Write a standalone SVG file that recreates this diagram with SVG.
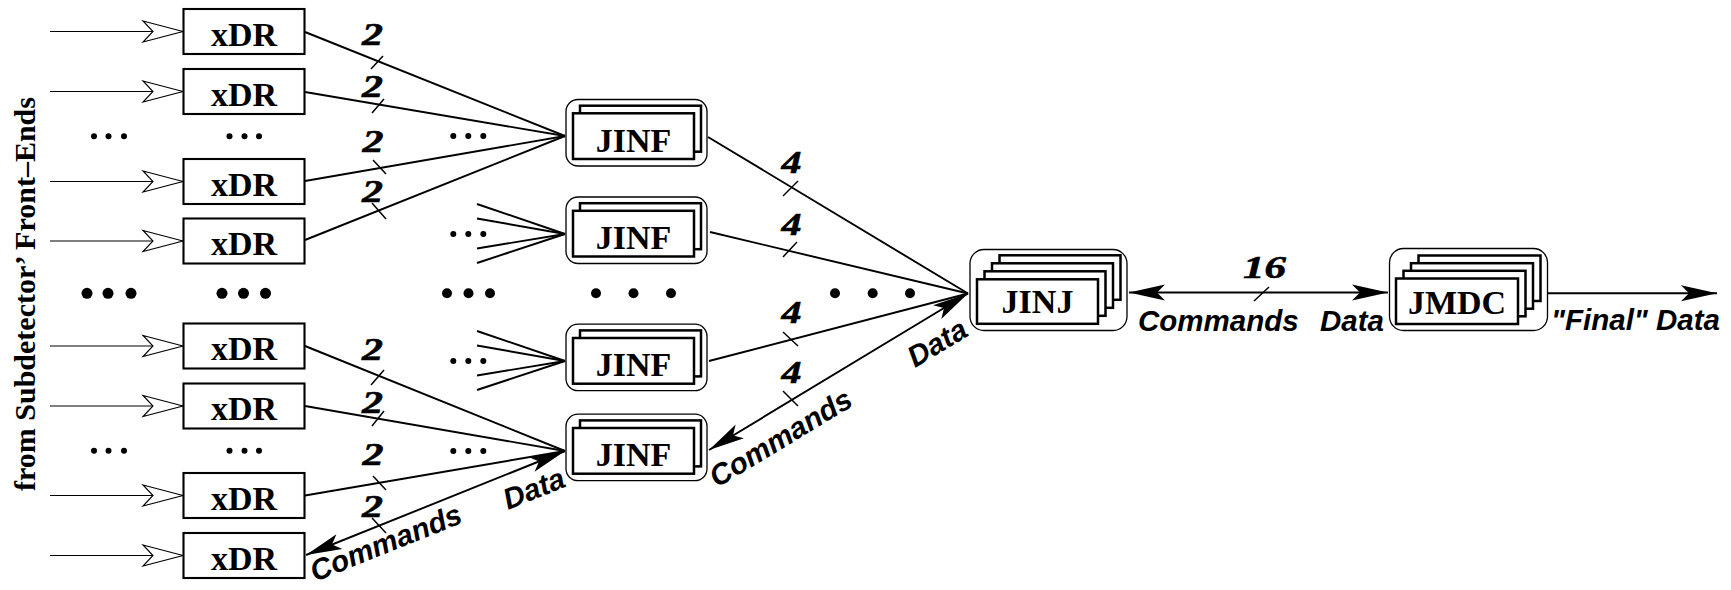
<svg xmlns="http://www.w3.org/2000/svg" width="1731" height="590" viewBox="0 0 1731 590">
<style>
.box{fill:#fff;stroke:#000;stroke-width:2.1}
.outer{fill:#fff;stroke:#000;stroke-width:1.3}
.card{fill:#fff;stroke:#000;stroke-width:2.5}
.lbl{font-family:"Liberation Serif",serif;font-weight:bold;font-size:34px;text-anchor:middle}
.num{font-family:"Liberation Serif",serif;font-weight:bold;font-style:italic;font-size:32px;text-anchor:middle;stroke:#000;stroke-width:0.6}
.sig{font-family:"Liberation Sans",sans-serif;font-weight:bold;font-style:italic;font-size:29.5px}
.side{font-family:"Liberation Serif",serif;font-weight:bold;font-size:30px;text-anchor:middle}
.conn{stroke:#000;stroke-width:1.9;fill:none}
.tick{stroke:#000;stroke-width:1.5;fill:none}
.in{stroke:#000;stroke-width:1.1;fill:none}
</style>
<defs>
<marker id="ah" markerUnits="userSpaceOnUse" markerWidth="40" markerHeight="20" viewBox="-38 -10 40 20" refX="0" refY="0" orient="auto-start-reverse" overflow="visible">
<path d="M0,0 L-36,-8 L-28,0 L-36,8 Z" fill="#000"/>
</marker>
<marker id="oa" markerUnits="userSpaceOnUse" markerWidth="44" markerHeight="24" viewBox="-42 -12 44 24" refX="0" refY="0" orient="auto" overflow="visible">
<path d="M0,0 L-40,-10.5 L-30,0 L-40,10.5 Z" fill="#fff" stroke="#000" stroke-width="1.1"/>
</marker>
</defs>

<text class="side" transform="translate(35,294) rotate(-90)">from Subdetector’ Front–Ends</text>

<g id="inputs">
<line class="in" x1="50" y1="31.5" x2="183" y2="31.5" marker-end="url(#oa)"/>
<line class="in" x1="50" y1="91.5" x2="183" y2="91.5" marker-end="url(#oa)"/>
<line class="in" x1="50" y1="181.5" x2="183" y2="181.5" marker-end="url(#oa)"/>
<line class="in" x1="50" y1="241" x2="183" y2="241" marker-end="url(#oa)"/>
<line class="in" x1="50" y1="346" x2="183" y2="346" marker-end="url(#oa)"/>
<line class="in" x1="50" y1="406" x2="183" y2="406" marker-end="url(#oa)"/>
<line class="in" x1="50" y1="495.5" x2="183" y2="495.5" marker-end="url(#oa)"/>
<line class="in" x1="50" y1="555.5" x2="183" y2="555.5" marker-end="url(#oa)"/>
</g>

<g id="xdr1"><rect class="box" x="183.5" y="9" width="121" height="45"/><text class="lbl" x="244" y="45.5">xDR</text></g>
<g id="xdr2"><rect class="box" x="183.5" y="69" width="121" height="45"/><text class="lbl" x="244" y="105.5">xDR</text></g>
<g id="xdr3"><rect class="box" x="183.5" y="159" width="121" height="45"/><text class="lbl" x="244" y="195.5">xDR</text></g>
<g id="xdr4"><rect class="box" x="183.5" y="218.5" width="121" height="45"/><text class="lbl" x="244" y="255">xDR</text></g>
<g id="xdr5"><rect class="box" x="183.5" y="323.5" width="121" height="45"/><text class="lbl" x="244" y="360">xDR</text></g>
<g id="xdr6"><rect class="box" x="183.5" y="383.5" width="121" height="45"/><text class="lbl" x="244" y="420">xDR</text></g>
<g id="xdr7"><rect class="box" x="183.5" y="473" width="121" height="45"/><text class="lbl" x="244" y="509.5">xDR</text></g>
<g id="xdr8"><rect class="box" x="183.5" y="533" width="121" height="45"/><text class="lbl" x="244" y="569.5">xDR</text></g>

<g id="dots">
<circle cx="94" cy="136.3" r="3"/><circle cx="108.5" cy="136.3" r="3"/><circle cx="124" cy="136.3" r="3"/>
<circle cx="229.5" cy="136.3" r="3"/><circle cx="244.5" cy="136.3" r="3"/><circle cx="259" cy="136.3" r="3"/>
<circle cx="94" cy="450.7" r="3"/><circle cx="108.5" cy="450.7" r="3"/><circle cx="124" cy="450.7" r="3"/>
<circle cx="229.5" cy="450.7" r="3"/><circle cx="244.5" cy="450.7" r="3"/><circle cx="259" cy="450.7" r="3"/>
<circle cx="87" cy="293.3" r="5.5"/><circle cx="108" cy="293.3" r="5.5"/><circle cx="131" cy="293.3" r="5.5"/>
<circle cx="222" cy="293.3" r="5.5"/><circle cx="243.5" cy="293.3" r="5.5"/><circle cx="265.5" cy="293.3" r="5.5"/>
<circle cx="453.3" cy="136" r="3"/><circle cx="468.3" cy="136" r="3"/><circle cx="483.3" cy="136" r="3"/>
<circle cx="453.3" cy="234" r="3"/><circle cx="468.3" cy="234" r="3"/><circle cx="483.3" cy="234" r="3"/>
<circle cx="453.3" cy="361" r="3"/><circle cx="468.3" cy="361" r="3"/><circle cx="483.3" cy="361" r="3"/>
<circle cx="453.3" cy="451" r="3"/><circle cx="468.3" cy="451" r="3"/><circle cx="483.3" cy="451" r="3"/>
<circle cx="447" cy="293.3" r="5"/><circle cx="468.5" cy="293.3" r="5"/><circle cx="490" cy="293.3" r="5"/>
<circle cx="596" cy="293.3" r="5"/><circle cx="633.5" cy="293.3" r="5"/><circle cx="671" cy="293.3" r="5"/>
<circle cx="835" cy="293.3" r="5"/><circle cx="872.7" cy="293.3" r="5"/><circle cx="910" cy="293.3" r="5"/>
</g>

<g id="connectors">
<line class="conn" x1="305" y1="32" x2="565" y2="136"/>
<line class="conn" x1="305" y1="92" x2="565" y2="136"/>
<line class="conn" x1="305" y1="181" x2="565" y2="136"/>
<line class="conn" x1="305" y1="240" x2="565" y2="136"/>
<line class="conn" x1="477" y1="204" x2="565" y2="234"/>
<line class="conn" x1="477" y1="218.5" x2="565" y2="234"/>
<line class="conn" x1="477" y1="248.5" x2="565" y2="234"/>
<line class="conn" x1="477" y1="263" x2="565" y2="234"/>
<line class="conn" x1="477" y1="331" x2="565" y2="361"/>
<line class="conn" x1="477" y1="345.5" x2="565" y2="361"/>
<line class="conn" x1="477" y1="375.5" x2="565" y2="361"/>
<line class="conn" x1="477" y1="390" x2="565" y2="361"/>
<line class="conn" x1="305" y1="346" x2="565" y2="451"/>
<line class="conn" x1="305" y1="406" x2="565" y2="451"/>
<line class="conn" x1="305" y1="495.5" x2="565" y2="451"/>
<line class="conn" x1="306" y1="555" x2="565" y2="451" marker-start="url(#ah)" marker-end="url(#ah)"/>
<line class="conn" x1="708" y1="137" x2="968" y2="293.5"/>
<line class="conn" x1="710" y1="232" x2="968" y2="293.5"/>
<line class="conn" x1="709" y1="361" x2="968" y2="293.5"/>
<line class="conn" x1="709" y1="450" x2="968" y2="293.5" marker-start="url(#ah)" marker-end="url(#ah)"/>
<line class="conn" x1="1129" y1="292.5" x2="1388" y2="292.5" marker-start="url(#ah)" marker-end="url(#ah)"/>
<line class="conn" x1="1548" y1="293.3" x2="1717" y2="293.3" marker-end="url(#ah)"/>

<line class="tick" x1="371" y1="69" x2="383" y2="56"/>
<line class="tick" x1="372" y1="113" x2="384" y2="99"/>
<line class="tick" x1="373" y1="160" x2="386" y2="174"/>
<line class="tick" x1="372" y1="203" x2="386" y2="219"/>
<line class="tick" x1="371" y1="385" x2="384" y2="370"/>
<line class="tick" x1="372" y1="426" x2="384" y2="411"/>
<line class="tick" x1="373" y1="476" x2="386" y2="490"/>
<line class="tick" x1="372" y1="518" x2="386" y2="533"/>
<line class="tick" x1="783" y1="196" x2="798" y2="181"/>
<line class="tick" x1="783" y1="257" x2="797" y2="242"/>
<line class="tick" x1="783" y1="332" x2="798" y2="346"/>
<line class="tick" x1="783" y1="391" x2="798" y2="406"/>
<line class="tick" x1="1254" y1="301" x2="1269" y2="287"/>

<text class="num" x="372.5" y="45" textLength="21" lengthAdjust="spacingAndGlyphs">2</text>
<text class="num" x="372.5" y="97" textLength="21" lengthAdjust="spacingAndGlyphs">2</text>
<text class="num" x="373" y="151.5" textLength="21" lengthAdjust="spacingAndGlyphs">2</text>
<text class="num" x="372.5" y="201.5" textLength="21" lengthAdjust="spacingAndGlyphs">2</text>
<text class="num" x="372.5" y="360" textLength="21" lengthAdjust="spacingAndGlyphs">2</text>
<text class="num" x="372.5" y="413" textLength="21" lengthAdjust="spacingAndGlyphs">2</text>
<text class="num" x="373" y="465" textLength="21" lengthAdjust="spacingAndGlyphs">2</text>
<text class="num" x="372.5" y="516.5" textLength="21" lengthAdjust="spacingAndGlyphs">2</text>
<text class="num" x="791.5" y="173" textLength="20" lengthAdjust="spacingAndGlyphs">4</text>
<text class="num" x="791.5" y="235" textLength="20" lengthAdjust="spacingAndGlyphs">4</text>
<text class="num" x="791.5" y="323" textLength="20" lengthAdjust="spacingAndGlyphs">4</text>
<text class="num" x="791.5" y="383" textLength="20" lengthAdjust="spacingAndGlyphs">4</text>
<text class="num" x="1264.5" y="278" textLength="43" lengthAdjust="spacingAndGlyphs">16</text>

<text class="sig" transform="translate(315,582) rotate(-21.85)">Commands</text>
<text class="sig" transform="translate(508,510) rotate(-21.85)">Data</text>
<text class="sig" transform="translate(717,488) rotate(-31.1)">Commands</text>
<text class="sig" transform="translate(915,368) rotate(-31.1)">Data</text>
<text class="sig" x="1138" y="331">Commands</text>
<text class="sig" x="1320" y="331">Data</text>
<text class="sig" x="1551" y="330">"Final" Data</text>
</g>

<g id="jinf1">
<rect class="outer" x="566" y="99.5" width="141" height="66.5" rx="12"/>
<rect class="card" x="580" y="105.7" width="121" height="46"/>
<rect class="card" x="573" y="113.3" width="121" height="45.7"/>
<text class="lbl" x="633.5" y="151.7">JINF</text>
</g>
<g id="jinf2" transform="translate(0,97.5)">
<rect class="outer" x="566" y="99.5" width="141" height="66.5" rx="12"/>
<rect class="card" x="580" y="105.7" width="121" height="46"/>
<rect class="card" x="573" y="113.3" width="121" height="45.7"/>
<text class="lbl" x="633.5" y="151.7">JINF</text>
</g>
<g id="jinf3" transform="translate(0,224.7)">
<rect class="outer" x="566" y="99.5" width="141" height="66.5" rx="12"/>
<rect class="card" x="580" y="105.7" width="121" height="46"/>
<rect class="card" x="573" y="113.3" width="121" height="45.7"/>
<text class="lbl" x="633.5" y="151.7">JINF</text>
</g>
<g id="jinf4" transform="translate(0,314.7)">
<rect class="outer" x="566" y="99.5" width="141" height="66.5" rx="12"/>
<rect class="card" x="580" y="105.7" width="121" height="46"/>
<rect class="card" x="573" y="113.3" width="121" height="45.7"/>
<text class="lbl" x="633.5" y="151.7">JINF</text>
</g>

<g id="jinj">
<rect class="outer" x="970" y="249.5" width="157" height="81" rx="14"/>
<rect class="card" x="999.5" y="255.3" width="121" height="44.5"/>
<rect class="card" x="992" y="263.3" width="121" height="44.5"/>
<rect class="card" x="984.5" y="271.3" width="121" height="44.5"/>
<rect class="card" x="977" y="279.3" width="121" height="44.5"/>
<text class="lbl" x="1037.5" y="313">JINJ</text>
</g>

<g id="jmdc">
<rect class="outer" x="1389.5" y="248.5" width="158" height="82" rx="14"/>
<rect class="card" x="1418.5" y="255.5" width="122" height="45.5"/>
<rect class="card" x="1411" y="263.2" width="122" height="45.5"/>
<rect class="card" x="1403.5" y="270.8" width="122" height="45.5"/>
<rect class="card" x="1396" y="278.5" width="122" height="45.5"/>
<text class="lbl" x="1457" y="314">JMDC</text>
</g>
</svg>
